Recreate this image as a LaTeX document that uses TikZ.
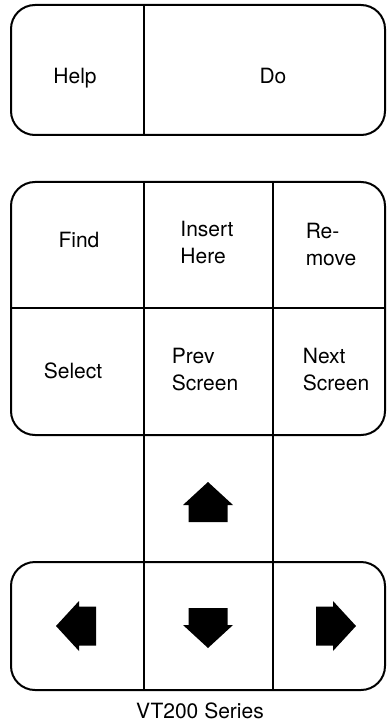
\documentclass[tikz,border=0pt]{standalone}
\usepackage{fontspec}
\setmainfont{TeX Gyre Heros}
\usetikzlibrary{positioning}
\tikzset{
  x=1pt,y=-1pt,
  keyframe/.style={line width=2pt,rounded corners=24pt},
  keyrule/.style={line width=2pt},
  keytext/.style={font=\fontsize{21}{27}\selectfont,align=left,inner sep=0pt},
  caption/.style={font=\fontsize{21}{27}\selectfont,inner sep=0pt},
  % solid arrow key cap, pointing up before rotation
  pics/navarrow/.style={code={
    \fill (0,-20) -- (25,3) -- (19.5,3) -- (19.5,20) -- (-19.5,20) -- (-19.5,3) -- (-25,3) -- cycle;
  }},
}

\begin{document}
\begin{tikzpicture}
    \useasboundingbox (0,0) rectangle (387,727);
    % key frames
    \draw[keyframe] (11,5) rectangle (385,135);
    \draw[keyframe] (11,182) rectangle (385,435);
    \draw[keyframe] (11,562) rectangle (385,690);
    \draw[keyrule] (144,5) -- (144,135);
    \draw[keyrule] (11,308) -- (385,308);
    \foreach \x in {144,273} \draw[keyrule] (\x,182) -- (\x,690);
    % labels
    \node[keytext,anchor=base] (help) at (75,84) {Help};
    \node[keytext,anchor=base] (do) at (273,84) {Do};
    \node[keytext,anchor=base] (find) at (79,247) {Find};
    \node[keytext] (insert) at (207,243) {Insert\\Here};
    \node[keytext] (remove) at (331,245) {Re-\\move};
    \node[keytext,anchor=base] (select) at (73,378) {Select};
    \node[keytext] (prev) at (205,370) {Prev\\Screen};
    \node[keytext] (next) at (336,370) {Next\\Screen};
    % arrow keys
    \pic at (208,502) {navarrow};
    \pic[rotate=90] at (76,626) {navarrow};
    \pic[rotate=180] at (208,628) {navarrow};
    \pic[rotate=-90] at (336,626) {navarrow};
    \node[caption,anchor=base] (series) at (200,718) {VT200 Series};
\end{tikzpicture}
\end{document}
